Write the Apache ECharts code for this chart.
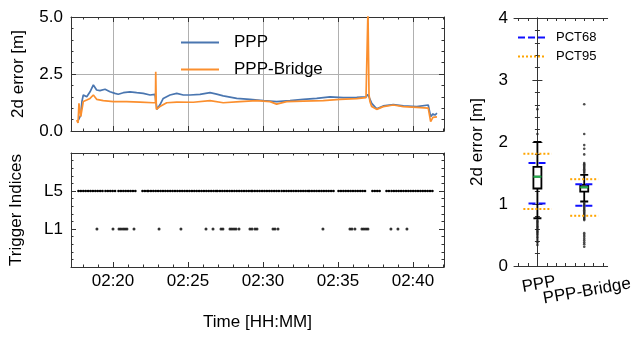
<!DOCTYPE html>
<html>
<head>
<meta charset="utf-8">
<script src="https://cdn.jsdelivr.net/npm/echarts@6/dist/echarts.min.js"></script>
<style>
html, body { margin: 0; padding: 0; background: #fff; }
#chart { width: 635px; height: 337px; }
</style>
</head>
<body>
<div id="chart"></div>
<script>
// time in minutes after 02:00
var pppT = [17.69, 17.85, 17.93, 18.02, 18.25, 18.47, 18.69, 18.91, 19.13, 19.47,
    19.80, 20.13, 20.35, 20.69, 21.13, 21.58, 22.02, 22.47, 22.80, 22.87,
    22.93, 23.02, 23.13, 23.35, 23.80, 24.25, 24.69, 25.13, 25.80, 26.47,
    26.91, 27.35, 28.25, 29.13, 30.02, 30.91, 31.80, 32.69, 33.58, 34.47,
    35.35, 36.25, 36.87, 37.0, 37.25, 37.58, 38.02, 38.69, 39.36, 40.25,
    41.02, 41.18, 41.33, 41.47, 41.6];
var pppV = [0.48, 0.70, 1.30, 1.58, 1.50, 1.72, 2.02, 1.80, 1.77, 1.83,
    1.72, 1.65, 1.61, 1.68, 1.72, 1.68, 1.65, 1.58, 1.61, 1.58,
    0.95, 1.00, 1.15, 1.43, 1.58, 1.65, 1.58, 1.58, 1.61, 1.68,
    1.62, 1.54, 1.43, 1.39, 1.33, 1.29, 1.33, 1.39, 1.43, 1.50,
    1.46, 1.48, 1.50, 1.60, 1.21, 0.97, 1.10, 1.16, 1.10, 1.07,
    1.14, 0.63, 0.75, 0.70, 0.78];

var bridgeT = [17.58, 17.67, 17.73, 17.85, 18.02, 18.25, 18.47, 18.69, 18.91, 19.35,
    20.02, 20.91, 21.80, 22.69, 22.83, 22.85, 22.89, 22.95, 23.13, 23.58,
    24.25, 25.35, 26.47, 27.35, 28.47, 29.58, 30.47, 30.91, 31.58, 32.69,
    34.02, 35.13, 36.25, 36.87, 36.97, 37.0, 37.07, 37.13, 37.25, 37.58,
    38.02, 38.69, 39.36, 40.25, 41.02, 41.18, 41.33, 41.6];
var bridgeV = [0.48, 0.35, 1.21, 0.63, 1.29, 1.36, 1.43, 1.58, 1.39, 1.33,
    1.29, 1.29, 1.27, 1.24, 1.24, 2.60, 0.95, 0.95, 1.07, 1.24,
    1.27, 1.26, 1.33, 1.24, 1.29, 1.33, 1.29, 1.18, 1.29, 1.31,
    1.33, 1.39, 1.42, 1.46, 1.46, 5.30, 1.60, 1.30, 1.07, 0.95,
    1.07, 1.14, 1.07, 1.04, 1.00, 0.41, 0.60, 0.62];

// trigger level L5: runs of consecutive epochs (start / end minute)
var l5Start = [17.73, 19.53, 20.40, 22.00, 22.40, 27.00, 29.33, 31.27, 33.13, 35.07, 37.33, 38.27, 38.60];
var l5End   = [19.33, 20.13, 21.60, 22.27, 26.93, 29.27, 31.13, 33.00, 34.80, 36.80, 37.80, 38.40, 41.27];
// trigger level L1: single epochs
var l1T = [18.93, 20.0, 20.4, 20.53, 20.67, 20.8, 20.93, 21.4, 23.07, 24.53,
    26.2, 26.67, 27.2, 27.33, 27.8, 27.93, 28.07, 28.2, 28.4, 29.13,
    29.27, 29.47, 29.6, 30.67, 30.8, 31.0, 34.0, 35.8, 35.93, 36.13,
    36.6, 36.73, 36.87, 37.0, 38.53, 39.0, 39.6];

var timeTicks = [20, 25, 30, 35, 40];
var timeMinor = [18, 19, 21, 22, 23, 24, 26, 27, 28, 29, 31, 32, 33, 34, 36, 37, 38, 39, 41, 42];

// box plot: [min, Q1, median, Q3, max]
var boxNames = ['PPP', 'PPP-Bridge'];
var boxStats = [
    [0.77, 1.25, 1.44, 1.60, 2.00],
    [1.04, 1.20, 1.27, 1.31, 1.47]
];
var fliers = [
    [2.53, 2.13, 0.74, 0.72, 0.70, 0.68, 0.66, 0.64, 0.62, 0.60, 0.58, 0.56, 0.54, 0.52, 0.50, 0.47, 0.45, 0.42, 0.38, 0.34],
    [2.61, 2.13, 1.95, 1.89, 1.80, 1.66, 1.64, 1.62, 1.60, 1.58, 1.56, 1.54, 1.52, 1.50,
     1.02, 1.00, 0.98, 0.96, 0.94, 0.92, 0.90, 0.88, 0.86, 0.84, 0.82, 0.80, 0.78, 0.76, 0.74,
     0.53, 0.50, 0.47, 0.44, 0.41, 0.38, 0.35, 0.31]
];
var pct68 = [[1.01, 1.66], [0.97, 1.32]];
var pct95 = [[0.92, 1.81], [0.81, 1.40]];

var FONT = 'Liberation Sans';
var AX = '#333';
var X_MIN = 17.2, X_MAX = 42.07;

function minuteLabel(v) {
    return '02:' + (v < 10 ? '0' + v : v);
}

function pairs(xs, ys) {
    var out = [];
    for (var i = 0; i < xs.length; i++) out.push([xs[i], ys[i]]);
    return out;
}

// one x axis that only carries ticks (used for minor ticks and the mirrored top side)
function tickAxis(grid, pos, values, len, showLine) {
    return {
        type: 'value', gridIndex: grid, position: pos, min: X_MIN, max: X_MAX,
        axisLine: { show: !!showLine, lineStyle: { color: AX, width: 1 } },
        axisTick: { show: true, inside: true, length: len, customValues: values, lineStyle: { color: AX } },
        axisLabel: { show: false, customValues: values },
        splitLine: { show: false }
    };
}

function yAxisBox(grid, pos, min, max, interval, labels, extra) {
    var ax = {
        type: 'value', gridIndex: grid, position: pos, min: min, max: max, interval: interval,
        axisLine: { show: true, lineStyle: { color: AX, width: 1 } },
        axisTick: { show: true, inside: true, length: 5, lineStyle: { color: AX } },
        minorTick: { show: true, splitNumber: 5, length: 2.5, lineStyle: { color: AX } },
        axisLabel: { show: !!labels, fontSize: 17, fontFamily: FONT, color: '#000', margin: 8 },
        splitLine: { show: false }
    };
    if (labels) ax.axisLabel.formatter = labels;
    for (var k in (extra || {})) ax[k] = extra[k];
    return ax;
}

var nameStyle = { fontSize: 17, fontFamily: FONT, color: '#000' };

var xAxes = [];
// grid 0 (error time series)
var x0 = tickAxis(0, 'bottom', timeTicks, 5, true);
x0.splitLine = { show: true, lineStyle: { color: '#b0b0b0', width: 1 } };
xAxes.push(x0);
xAxes.push(tickAxis(0, 'bottom', timeMinor, 2.5));
xAxes.push(tickAxis(0, 'top', timeTicks, 5, true));
xAxes.push(tickAxis(0, 'top', timeMinor, 2.5));
// grid 1 (trigger indices)
var x4 = tickAxis(1, 'bottom', timeTicks, 5, true);
x4.axisLabel = { show: true, customValues: timeTicks, formatter: minuteLabel, fontSize: 17, fontFamily: FONT, color: '#000', margin: 6 };
x4.name = 'Time [HH:MM]';
x4.nameLocation = 'middle';
x4.nameGap = 47;
x4.nameTextStyle = nameStyle;
xAxes.push(x4);
xAxes.push(tickAxis(1, 'bottom', timeMinor, 2.5));
xAxes.push(tickAxis(1, 'top', timeTicks, 5, true));
xAxes.push(tickAxis(1, 'top', timeMinor, 2.5));
// grid 2 (box plot)
xAxes.push({
    type: 'category', gridIndex: 2, position: 'bottom', data: boxNames,
    axisLine: { show: false }, axisTick: { show: false },
    axisLabel: {
        interval: 0, hideOverlap: false,
        rotate: 10, align: 'center', verticalAlign: 'top', margin: 10,
        fontSize: 17, fontFamily: FONT, color: '#000',
        formatter: function (v) { return v === 'PPP' ? '{a|PPP}' : '{b|PPP-Bridge}'; },
        rich: {
            a: { fontSize: 17, fontFamily: FONT, color: '#000' },
            b: { fontSize: 17, fontFamily: FONT, color: '#000', padding: [7, 0, 0, 0] }
        }
    }
});
var boxTicks = [-0.4, -0.2, 0, 0.2, 0.4, 0.6, 0.8, 1, 1.2, 1.4];
['bottom', 'top'].forEach(function (p) {
    xAxes.push({
        type: 'value', gridIndex: 2, position: p, min: -0.5, max: 1.5,
        axisLine: { show: true, lineStyle: { color: AX, width: 1 } },
        axisTick: { show: true, inside: true, length: 3, customValues: boxTicks, lineStyle: { color: AX } },
        axisLabel: { show: false, customValues: boxTicks },
        splitLine: { show: false }
    });
});

var yAxes = [
    yAxisBox(0, 'left', 0, 5, 2.5, function (v) { return v.toFixed(1); }, {
        splitLine: { show: true, lineStyle: { color: '#b0b0b0', width: 1 } },
        name: '2d error [m]', nameLocation: 'middle', nameGap: 44, nameTextStyle: nameStyle
    }),
    yAxisBox(0, 'right', 0, 5, 2.5, null),
    yAxisBox(1, 'left', 0, 3, 1, function (v) { return v === 1 ? 'L1' : (v === 2 ? 'L5' : ''); }, {
        name: 'Trigger Indices', nameLocation: 'middle', nameGap: 46, nameTextStyle: nameStyle
    }),
    yAxisBox(1, 'right', 0, 3, 1, null),
    yAxisBox(2, 'left', 0, 4, 1, function (v) { return String(v); }, {
        name: '2d error [m]', nameLocation: 'middle', nameGap: 28, nameTextStyle: nameStyle
    }),
    yAxisBox(2, 'right', 0, 4, 1, null)
];
yAxes[4].axisLabel.margin = 6;

var series = [
    { name: 'PPP', type: 'line', xAxisIndex: 0, yAxisIndex: 0, data: pairs(pppT, pppV),
      showSymbol: false, symbol: 'none', lineStyle: { color: '#4a76b0', width: 1.7 }, itemStyle: { color: '#4a76b0' } },
    { name: 'PPP-Bridge', type: 'line', xAxisIndex: 0, yAxisIndex: 0, data: pairs(bridgeT, bridgeV),
      showSymbol: false, symbol: 'none', lineStyle: { color: '#fb8f2e', width: 1.7 }, itemStyle: { color: '#fb8f2e' } },
    { type: 'custom', xAxisIndex: 4, yAxisIndex: 2,
      data: l5Start.map(function (s, i) { return [s, l5End[i], 2]; }),
      renderItem: function (params, api) {
          var a = api.coord([api.value(0), api.value(2)]);
          var b = api.coord([api.value(1), api.value(2)]);
          return { type: 'line', shape: { x1: a[0] - 0.5, y1: a[1], x2: b[0] + 0.5, y2: b[1] },
                   style: { stroke: '#000', lineWidth: 2.6, lineCap: 'round', lineDash: [0.01, 2.4] } };
      } },
    { type: 'scatter', xAxisIndex: 4, yAxisIndex: 2, symbolSize: 3,
      data: l1T.map(function (t) { return [t, 1]; }), itemStyle: { color: '#000' } },
    { type: 'boxplot', xAxisIndex: 8, yAxisIndex: 4, data: boxStats, boxWidth: [8, 8], z: 2,
      itemStyle: { color: '#fff', borderColor: '#000', borderWidth: 1.8 } }
];

boxStats.forEach(function (st, i) {
    series.push({ type: 'line', xAxisIndex: 9, yAxisIndex: 4, z: 3, symbol: 'none',
        data: [[i - 0.085, st[2]], [i + 0.085, st[2]]], lineStyle: { color: '#22b14c', width: 2 } });
    series.push({ type: 'scatter', xAxisIndex: 9, yAxisIndex: 4, z: 3, symbolSize: 2.6,
        data: fliers[i].map(function (v) { return [i, v]; }), itemStyle: { color: '#222' } });
    pct68[i].forEach(function (v) {
        series.push({ name: 'PCT68', type: 'line', xAxisIndex: 9, yAxisIndex: 4, z: 4, symbol: 'none',
            data: [[i - 0.19, v], [i + 0.19, v]], lineStyle: { color: '#1010ff', width: 2, type: [7, 3] }, itemStyle: { color: '#1010ff' } });
    });
    pct95[i].forEach(function (v) {
        series.push({ name: 'PCT95', type: 'line', xAxisIndex: 9, yAxisIndex: 4, z: 4, symbol: 'none',
            data: [[i - 0.3, v], [i + 0.3, v]], lineStyle: { color: '#ffa500', width: 2, type: [2, 2] }, itemStyle: { color: '#ffa500' } });
    });
});

var myChart = echarts.init(document.getElementById('chart'));
myChart.setOption({
    animation: false,
    backgroundColor: '#fff',
    grid: [
        { left: 71, top: 17, width: 373, height: 114 },
        { left: 71, top: 153, width: 373, height: 114 },
        { left: 514, top: 18, width: 94, height: 248 }
    ],
    legend: [
        { data: ['PPP', 'PPP-Bridge'], orient: 'vertical', left: 175, top: 29, itemWidth: 38, itemHeight: 14, itemGap: 10,
          selectedMode: false, itemStyle: { opacity: 0 },
          textStyle: { fontSize: 17, fontFamily: FONT, color: '#000', padding: [0, 0, 0, 10] } },
        { data: ['PCT68', 'PCT95'], orient: 'vertical', left: 512, top: 26, itemWidth: 27, itemHeight: 10, itemGap: 6,
          selectedMode: false, itemStyle: { opacity: 0 },
          textStyle: { fontSize: 13, fontFamily: FONT, color: '#000', padding: [0, 0, 0, 6] } }
    ],
    xAxis: xAxes,
    yAxis: yAxes,
    series: series
});
</script>
</body>
</html>
